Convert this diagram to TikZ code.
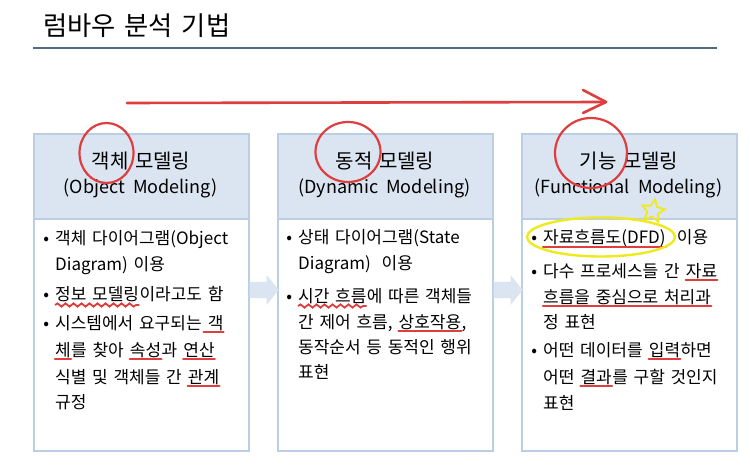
\documentclass[tikz,border=0pt]{standalone}
\usepackage{fontspec}
\setmainfont[WordSpace=1.5]{Noto Sans CJK KR}
\usetikzlibrary{shapes.geometric,decorations.pathmorphing}
\definecolor{hdrfill}{RGB}{219,229,241}
\definecolor{boxline}{RGB}{188,206,228}
\definecolor{pen}{RGB}{222,62,62}
\definecolor{hilite}{RGB}{238,234,30}
\definecolor{rulecol}{RGB}{84,104,136}
\newcommand\wgap{\ \kern0pt}
\begin{document}
\begin{tikzpicture}[x=1pt,y=-1pt,
  hdr/.style={draw=boxline,fill=hdrfill,line width=1.6pt,minimum width=215pt,minimum height=85pt,anchor=north west,inner sep=0pt},
  bodybox/.style={draw=boxline,fill=white,line width=1.6pt,minimum width=215pt,minimum height=232pt,anchor=north west,inner sep=0pt},
  ttl/.style={font=\fontsize{26.3}{32}\selectfont,anchor=west,inner sep=0pt},
  hdrtext/.style={font=\fontsize{20}{24}\selectfont,inner sep=0pt},
  hdrsub/.style={font=\fontsize{18}{22}\selectfont,inner sep=0pt},
  txt/.style={font=\fontsize{17}{20}\selectfont,anchor=base west,inner sep=0pt},
  flowarrow/.style={fill=hdrfill,draw=none},
  penline/.style={draw=pen,line width=2.2pt,line cap=round},
  wavy/.style={draw=pen,line width=1.8pt,decorate,decoration={snake,amplitude=1.6pt,segment length=8pt}},
  ring/.style={draw=pen,line width=2.2pt},
]
\useasboundingbox (0,0) rectangle (750,473);
\fill[white] (0,0) rectangle (750,473);

% title
\node[ttl] (title) at (43,26) {럼바우 분석 기법};
\coordinate (ruleA) at (33,48);
\coordinate (ruleB) at (717,48);
\draw[rulecol,line width=1.4pt] (ruleA) -- (ruleB);

% big red arrow
\coordinate (ra) at (127,103);
\coordinate (rb) at (606,102);
\coordinate (rhu) at (583,90);
\coordinate (rhd) at (583,113);
\draw[penline,line width=2.6pt] (ra) -- (rb);
\draw[penline,line width=2.6pt,line join=round] (rhu) -- (rb) -- (rhd);

% boxes
\node[hdr] (h1) at (33,133) {};
\node[bodybox] (b1) at (33,218) {};
\node[hdr] (h2) at (277,133) {};
\node[bodybox] (b2) at (277,218) {};
\node[hdr] (h3) at (521,133) {};
\node[bodybox] (b3) at (521,218) {};

% block arrows between boxes
\path[flowarrow] ([yshift=-64pt]b1.north east) -- ++(17,0) -- ++(0,-7) -- ++(12,15) -- ++(-12,15) -- ++(0,-7) -- ++(-17,0) -- cycle;
\path[flowarrow] ([yshift=-64pt]b2.north east) -- ++(17,0) -- ++(0,-7) -- ++(12,15) -- ++(-12,15) -- ++(0,-7) -- ++(-17,0) -- cycle;

% header texts
\node[hdrtext] (t1a) at (141,161) {객체 모델링};
\node[hdrsub] (t1b) at (140.5,188) {(Object\hspace{0.45em}Modeling)};
\node[hdrtext] (t2a) at (385,161) {동적 모델링};
\node[hdrsub] (t2b) at (384.5,188) {(Dynamic\hspace{0.45em}Modeling)};
\node[hdrtext] (t3a) at (629,161) {기능 모델링};
\node[hdrsub] (t3b) at (628.5,188) {(Functional\hspace{0.45em}Modeling)};

% red circles
\draw[ring] (106.5,153) ellipse [x radius=27, y radius=30];
\draw[ring] (348,152) ellipse [x radius=32.5, y radius=30];
\draw[ring] (591,153) ellipse [x radius=36, y radius=35];

% ---- box 1 body
\node[txt] (a1) at (55,245) {\llap{•\hspace{6pt}}객체 다이어그램(Object};
\node[txt] (a2) at (55,271) {Diagram) 이용};
\node[txt] (a3u) at (55,301) {\llap{•\hspace{6pt}}정보 모델링};
\node[txt] (a3) at (a3u.base east) {이라고도 함};
\node[txt] (a4) at (55,329) {\llap{•\hspace{6pt}}시스템에서 요구되는\wgap};
\node[txt] (a4u) at (a4.base east) {객};
\node[txt] (a5u) at (55,356) {체};
\node[txt] (a5a) at (a5u.base east) {를 찾아\wgap};
\node[txt] (a5v) at (a5a.base east) {속성};
\node[txt] (a5b) at (a5v.base east) {과\wgap};
\node[txt] (a5w) at (a5b.base east) {연산};
\node[txt] (a6) at (55,383) {식별 및 객체들 간\wgap};
\node[txt] (a6u) at (a6.base east) {관계};
\node[txt] (a7) at (55,408) {규정};

\draw[wavy] ([yshift=-4pt]a3u.base west) -- ([yshift=-4pt]a3u.base east);
\draw[penline] ([xshift=-4pt,yshift=-3pt]a4u.base west) -- ([yshift=-3pt]a4u.base east);
\draw[penline] ([yshift=-3pt]a5u.base west) -- ([yshift=-3pt]a5u.base east);
\draw[penline] ([yshift=-3pt]a5v.base west) -- ([yshift=-3pt]a5v.base east);
\draw[penline] ([yshift=-3pt]a5w.base west) -- ([yshift=-3pt]a5w.base east);
\draw[penline] ([yshift=-3pt]a6u.base west) -- ([yshift=-3pt]a6u.base east);

% ---- box 2 body
\node[txt] (c1) at (298,244) {\llap{•\hspace{6pt}}상태 다이어그램(State};
\node[txt] (c2) at (298,270) {Diagram)\hspace{0.3em} 이용};
\node[txt] (c3u) at (298,302) {\llap{•\hspace{6pt}}시간 흐름};
\node[txt] (c3) at (c3u.base east) {에 따른 객체들};
\node[txt] (c4) at (298,328) {간 제어 흐름,\wgap};
\node[txt] (c4u) at (c4.base east) {상호작용};
\node[txt] (c4b) at (c4u.base east) {,};
\node[txt] (c5) at (298,353) {동작순서 등 동적인 행위};
\node[txt] (c6) at (298,378) {표현};

\draw[wavy] ([yshift=-4pt]c3u.base west) -- ([yshift=-4pt]c3u.base east);
\draw[penline] ([yshift=-3pt]c4u.base west) -- ([yshift=-3pt]c4u.base east);

% ---- box 3 body
\node[txt] (e1u) at (543,244) {\llap{•\hspace{6pt}}자료흐름도(DFD)};
\node[txt] (e1) at (e1u.base east) {\hspace{0.3em} 이용};
\node[txt] (e2) at (543,277) {\llap{•\hspace{6pt}}다수 프로세스들 간\wgap};
\node[txt] (e2u) at (e2.base east) {자료};
\node[txt] (e3u) at (543,303) {흐름을 중심으로 처리과};
\node[txt] (e4) at (543,328) {정 표현};
\node[txt] (e5) at (543,356) {\llap{•\hspace{6pt}}어떤 데이터를\wgap};
\node[txt] (e5u) at (e5.base east) {입력};
\node[txt] (e5b) at (e5u.base east) {하면};
\node[txt] (e6) at (543,383) {어떤\wgap};
\node[txt] (e6u) at (e6.base east) {결과};
\node[txt] (e6b) at (e6u.base east) {를 구할 것인지};
\node[txt] (e7) at (543,409) {표현};

\draw[penline] ([yshift=-3pt]e1u.base west) -- ([yshift=-3pt]e1u.base east);
\draw[penline] ([yshift=-3pt]e2u.base west) -- ([yshift=-3pt]e2u.base east);
\draw[penline] ([yshift=-3pt]e3u.base west) -- ([yshift=-3pt]e3u.base east);
\draw[penline] ([yshift=-3pt]e5u.base west) -- ([yshift=-3pt]e5u.base east);
\draw[penline] ([yshift=-3pt]e6u.base west) -- ([yshift=-3pt]e6u.base east);

% yellow highlight
\draw[hilite,line width=2.4pt] (601,237) ellipse [x radius=74, y radius=19.5];
\node[star,star points=5,star point ratio=2.1,draw=hilite,line width=1.8pt,minimum size=24pt,inner sep=0pt,rotate=-10] (spark) at (653,211) {};
\end{tikzpicture}
\end{document}
